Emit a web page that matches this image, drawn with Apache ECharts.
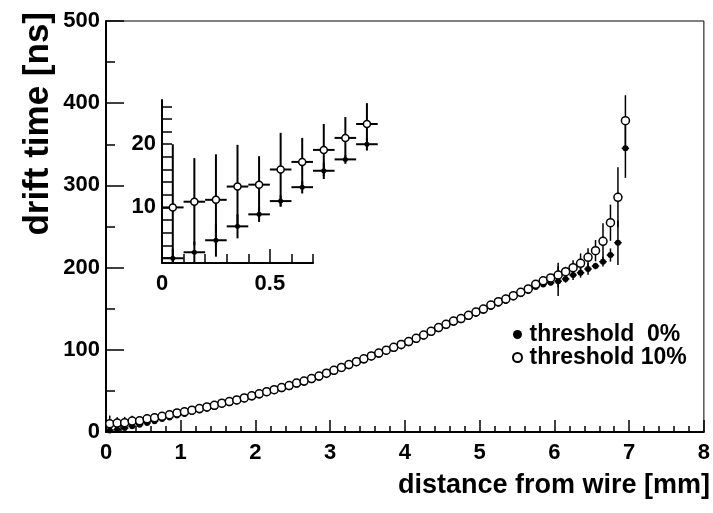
<!DOCTYPE html>
<html>
<head>
<meta charset="utf-8">
<script src="https://cdn.jsdelivr.net/npm/echarts@6/dist/echarts.min.js"></script>
<style>
    html, body { margin: 0; padding: 0; background: #fff; }
    #main { width: 713px; height: 513px; }
</style>
</head>
<body>
<div id="main"></div>
<script>
    // bin centres [mm]
    var distance = [0.05,0.15,0.25,0.35,0.45,0.55,0.65,0.75,0.85,0.95,
        1.05,1.15,1.25,1.35,1.45,1.55,1.65,1.75,1.85,1.95,
        2.05,2.15,2.25,2.35,2.45,2.55,2.65,2.75,2.85,2.95,
        3.05,3.15,3.25,3.35,3.45,3.55,3.65,3.75,3.85,3.95,
        4.05,4.15,4.25,4.35,4.45,4.55,4.65,4.75,4.85,4.95,
        5.05,5.15,5.25,5.35,5.45,5.55,5.65,5.75,5.85,5.95,
        6.05,6.15,6.25,6.35,6.45,6.55,6.65,6.75,6.85,6.95];
    var binHalf = 0.05;

    // drift time, threshold 0% (filled)
    var time0 = [1.95,2.9,4.8,7.0,8.9,11.0,13.2,15.8,17.6,20.0,
        22.0,24.2,26.3,28.4,30.5,33.0,35.0,37.0,39.5,42.0,
        44.5,47.0,49.5,52.0,54.5,57.5,60.0,63.0,66.0,69.5,
        73.0,76.5,80.0,83.5,87.0,90.5,94.0,97.5,101.0,104.5,
        108.0,112.0,116.0,120.5,125.0,129.0,133.0,136.0,140.0,144.0,
        147.5,152.0,156.0,159.5,163.5,167.5,171.5,176.5,179.5,181.5,
        183.5,186.1,191.0,193.8,198.3,201.9,207.2,215.3,230.3,345.1];
    var err0 = [1.5,1.7,2.6,1.9,1.2,0.9,1.0,1.3,0.7,1.0,
        1,1,1,1,1,1,1,1,1,1,
        1,1,1,1,1,1,1,1,1,4,
        1,1,1,1,1,1,1,1,1,4,
        1,1,1,1,1,1,1,1,1,4,
        1,1,1,1,1,1,1,1,2,3,
        18,4.5,6,6,7,4,6,8,27,36];

    // drift time, threshold 10% (open)
    var time10 = [10.0,10.9,11.2,13.3,13.6,16.0,17.2,19.1,21.0,23.2,
        24.5,26.5,28.5,30.5,32.5,35.0,37.0,39.0,41.5,44.0,
        46.5,49.0,51.5,54.0,56.5,59.5,62.0,65.0,68.0,71.5,
        75.0,78.5,82.0,85.5,89.0,92.5,96.0,99.5,103.0,106.5,
        110.0,114.0,118.0,122.5,127.0,131.0,135.0,138.0,142.0,146.0,
        149.6,154.5,158.5,161.8,165.8,170.0,174.0,179.6,184.0,187.5,
        191.0,195.0,199.9,205.2,212.5,220.6,232.0,254.6,285.5,378.7];
    var err10 = [10,6.9,7.2,6.6,4.5,5.8,3.8,4.1,3.3,3.3,
        2,2,2,2,2,2,2,2,2,2,
        2,2,2,2,2,2,2,2,2,2,
        2,2,2,2,2,2,2,2,2,2,
        2,2,2,2,2,2,2,2,2,2,
        2,2,2,2,2,2,2,2,3,3,
        15,6,9,12,11,13,22,22,36.5,31];

    var insetCount = 10;
    var insetYMin = 1.2, insetYMax = 27;
    var insetYTicks = [2,4,6,8,10,12,14,16,18,20,22,24,26];
    var insetYLabels = [10, 20];
    var insetXTicks = [0.1,0.2,0.3,0.4,0.5,0.6,0.7];
    var insetXLabels = [0, 0.5];

    var FONT = '"Liberation Sans", Arial, Helvetica, sans-serif';

    function rows(ys, es, n) {
        var out = [];
        for (var i = 0; i < n; i++) out.push([distance[i], ys[i], es[i]]);
        return out;
    }

    function errBars(yFloor, lw) {
        return function (params, api) {
            var x = api.value(0), y = api.value(1), e = api.value(2);
            var lo = api.coord([x, Math.max(y - e, yFloor)]);
            var hi = api.coord([x, y + e]);
            var l = api.coord([x - binHalf, y]);
            var r = api.coord([x + binHalf, y]);
            var st = { stroke: '#000', lineWidth: lw };
            return {
                type: 'group',
                children: [
                    { type: 'line', shape: { x1: lo[0], y1: lo[1], x2: hi[0], y2: hi[1] }, style: st },
                    { type: 'line', shape: { x1: l[0], y1: l[1], x2: r[0], y2: r[1] }, style: st }
                ]
            };
        };
    }

    var lblStyle = { color: '#000', fontFamily: FONT, fontWeight: 'bold', fontSize: 22 };
    var tickLine = { color: '#000', width: 1.5 };

    var chart = echarts.init(document.getElementById('main'), null, { renderer: 'canvas' });
    chart.setOption({
        animation: false,
        backgroundColor: '#fff',
        grid: [
            { left: 106, top: 21, right: 7, bottom: 81, show: true, borderColor: '#000', borderWidth: 1, backgroundColor: 'transparent' },
            { left: 162, top: 100, width: 151, height: 163 }
        ],
        xAxis: [
            {
                gridIndex: 0, type: 'value', min: 0, max: 8, interval: 1,
                axisLine: { lineStyle: { color: '#000', width: 2 } },
                axisTick: { inside: true, length: 12, lineStyle: tickLine },
                minorTick: { show: true, splitNumber: 5, length: 6, lineStyle: tickLine },
                splitLine: { show: false },
                axisLabel: Object.assign({ margin: 10 }, lblStyle)
            },
            {
                gridIndex: 1, type: 'value', min: 0, max: 0.7, position: 'bottom',
                axisLine: { onZero: false, lineStyle: { color: '#000', width: 2 } },
                axisTick: { inside: true, length: 9, customValues: insetXTicks, lineStyle: tickLine },
                splitLine: { show: false },
                axisLabel: Object.assign({ margin: 10, customValues: insetXLabels }, lblStyle)
            },
            {
                gridIndex: 1, type: 'value', min: 0, max: 0.7, position: 'bottom',
                axisLine: { show: false, onZero: false },
                axisTick: { inside: true, length: 14, customValues: [0.5], lineStyle: tickLine },
                splitLine: { show: false },
                axisLabel: { show: false }
            }
        ],
        yAxis: [
            {
                gridIndex: 0, type: 'value', min: 0, max: 500, interval: 100,
                axisLine: { lineStyle: { color: '#000', width: 2 } },
                axisTick: { inside: true, length: 18, lineStyle: tickLine },
                minorTick: { show: true, splitNumber: 2, length: 9, lineStyle: tickLine },
                splitLine: { show: false },
                axisLabel: Object.assign({ margin: 6 }, lblStyle)
            },
            {
                gridIndex: 1, type: 'value', min: insetYMin, max: insetYMax,
                axisLine: { onZero: false, lineStyle: { color: '#000', width: 2 } },
                axisTick: { inside: true, length: 10, customValues: insetYTicks, lineStyle: tickLine },
                splitLine: { show: false },
                axisLabel: Object.assign({ margin: 6, customValues: insetYLabels }, lblStyle)
            }
        ],
        legend: {
            left: 512, top: 323, orient: 'vertical', itemGap: 0, padding: 0,
            itemWidth: 10, itemHeight: 9,
            data: ['threshold  0%', 'threshold 10%'],
            textStyle: { color: '#000', fontFamily: FONT, fontWeight: 'bold', fontSize: 23, lineHeight: 22, padding: [0, 0, 0, 2] }
        },
        graphic: [
            {
                type: 'text', x: 38, y: 12, rotation: Math.PI / 2,
                style: { text: 'drift time [ns]', fill: '#000', font: 'bold 35px ' + FONT, align: 'right', verticalAlign: 'middle' }
            },
            {
                type: 'text', x: 710, y: 486,
                style: { text: 'distance from wire [mm]', fill: '#000', font: 'bold 27px ' + FONT, align: 'right', verticalAlign: 'middle' }
            }
        ],
        series: [
            { type: 'custom', xAxisIndex: 0, yAxisIndex: 0, renderItem: errBars(0, 1.5), data: rows(time0, err0, distance.length), z: 1 },
            { type: 'custom', xAxisIndex: 0, yAxisIndex: 0, renderItem: errBars(0, 1.5), data: rows(time10, err10, distance.length), z: 1 },
            {
                name: 'threshold  0%', type: 'scatter', xAxisIndex: 0, yAxisIndex: 0, symbol: 'circle', symbolSize: 6,
                itemStyle: { color: '#000', opacity: 1 }, data: rows(time0, err0, distance.length), z: 2
            },
            {
                name: 'threshold 10%', type: 'scatter', xAxisIndex: 0, yAxisIndex: 0, symbol: 'circle', symbolSize: 8,
                itemStyle: { color: '#fff', borderColor: '#000', borderWidth: 1.5, opacity: 1 }, data: rows(time10, err10, distance.length), z: 3
            },
            // inset (first bins zoomed)
            { type: 'custom', xAxisIndex: 1, yAxisIndex: 1, clip: false, renderItem: errBars(insetYMin, 2), data: rows(time0, err0, insetCount), z: 1 },
            { type: 'custom', xAxisIndex: 1, yAxisIndex: 1, clip: false, renderItem: errBars(insetYMin, 2), data: rows(time10, err10, insetCount), z: 1 },
            {
                name: 'threshold  0%', type: 'scatter', xAxisIndex: 1, yAxisIndex: 1, clip: false, symbol: 'circle', symbolSize: 5,
                itemStyle: { color: '#000', opacity: 1 }, data: rows(time0, err0, insetCount), z: 2
            },
            {
                name: 'threshold 10%', type: 'scatter', xAxisIndex: 1, yAxisIndex: 1, clip: false, symbol: 'circle', symbolSize: 7,
                itemStyle: { color: '#fff', borderColor: '#000', borderWidth: 1.5, opacity: 1 }, data: rows(time10, err10, insetCount), z: 3
            }
        ]
    });
</script>
</body>
</html>
